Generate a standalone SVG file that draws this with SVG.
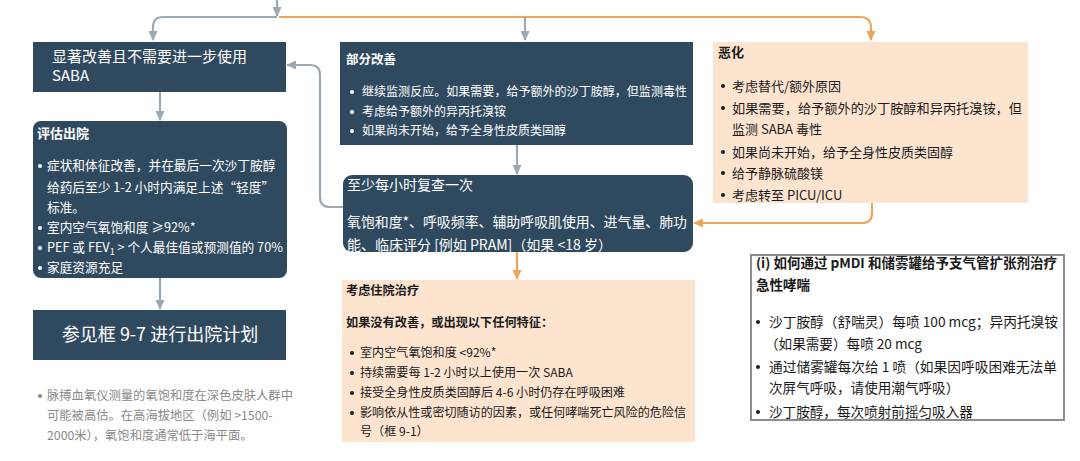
<svg xmlns="http://www.w3.org/2000/svg" width="1080" height="461" viewBox="0 0 1080 461">
<defs>
<marker id="ag" viewBox="0 0 10 10" refX="9" refY="5" markerWidth="10" markerHeight="10" markerUnits="userSpaceOnUse" orient="auto"><path d="M0,0.5 L10,5 L0,9.5 z" fill="#9aa9b3"/></marker>
<marker id="ao" viewBox="0 0 10 10" refX="9" refY="5" markerWidth="10" markerHeight="10" markerUnits="userSpaceOnUse" orient="auto"><path d="M0,0.5 L10,5 L0,9.5 z" fill="#eda559"/></marker>
<style>
text{font-family:"Noto Sans CJK SC","Noto Sans",sans-serif;}
.navy{fill:#2f4a5f;}
.peach{fill:#fde4cf;}
.w{fill:#ffffff;}
.k{fill:#1a1a1a;}
.g{fill:#8a8a8a;}
.b{font-weight:bold;}
.cg{fill:none;stroke:#9aa9b3;stroke-width:2.2;}
.co{fill:none;stroke:#eda559;stroke-width:2.2;}
</style>
</defs>
<rect width="1080" height="461" fill="#ffffff"/>

<g id="connectors">
<path class="co" d="M279,17 H860 Q871,17 871,28 V40" marker-end="url(#ao)"/>
<path class="cg" d="M277,0 V16" marker-end="url(#ag)"/>
<path class="cg" d="M277,17 H163 Q153,17 153,27 V40" marker-end="url(#ag)"/>
<path class="cg" d="M525,17 V40" marker-end="url(#ag)"/>
<path class="cg" d="M160,92 V120" marker-end="url(#ag)"/>
<path class="cg" d="M160,278 V309" marker-end="url(#ag)"/>
<path class="cg" d="M517,145 V174" marker-end="url(#ag)"/>
<path class="cg" d="M343,207 H330 Q320,207 320,197 V75 Q320,65 310,65 H287" marker-end="url(#ag)"/>
<path class="co" d="M872,203 V213 Q872,223 862,223 H694" marker-end="url(#ao)"/>
<path class="co" d="M517,252 V279" marker-end="url(#ao)"/>
</g>

<g id="node-improved">
<rect class="navy" x="33" y="42" width="253" height="50"/>
<text class="w" x="52" y="62" font-size="15">显著改善且不需要进一步使用</text>
<text class="w" x="52" y="81" font-size="15">SABA</text>
</g>

<g id="node-assess">
<rect class="navy" x="33" y="121" width="254" height="157" rx="8"/>
<text class="w b" x="37" y="138" font-size="13">评估出院</text>
<g class="w">
<circle cx="40" cy="166" r="2"/><circle cx="40" cy="228" r="2"/><circle cx="40" cy="248" r="2"/><circle cx="40" cy="268" r="2"/>
</g>
<g class="w" font-size="12.7">
<text x="47" y="170">症状和体征改善，并在最后一次沙丁胺醇</text>
<text x="47" y="192">给药后至少 1-2 小时内满足上述“轻度”</text>
<text x="47" y="212">标准。</text>
<text x="47" y="232">室内空气氧饱和度 ≥92%*</text>
<text x="47" y="252">PEF 或 FEV<tspan font-size="9" dy="3">1</tspan><tspan dy="-3"> &gt; 个人最佳值或预测值的 70%</tspan></text>
<text x="47" y="272">家庭资源充足</text>
</g>
</g>

<g id="node-discharge">
<rect class="navy" x="33" y="310" width="253" height="50"/>
<text class="w" x="160" y="341" font-size="18" text-anchor="middle">参见框 9-7 进行出院计划</text>
</g>

<g id="footnote" class="g" font-size="12.3">
<circle cx="40" cy="396" r="2"/>
<text x="47" y="400">脉搏血氧仪测量的氧饱和度在深色皮肤人群中</text>
<text x="47" y="420">可能被高估。在高海拔地区（例如 &gt;1500-</text>
<text x="47" y="440">2000米），氧饱和度通常低于海平面。</text>
</g>

<g id="node-partial">
<rect class="navy" x="340" y="42" width="353" height="103"/>
<text class="w b" x="346" y="64" font-size="12.5">部分改善</text>
<g class="w">
<circle cx="352" cy="92" r="2"/><circle cx="352" cy="112" r="2"/><circle cx="352" cy="131" r="2"/>
</g>
<g class="w" font-size="12">
<text x="362" y="96" textLength="325" lengthAdjust="spacingAndGlyphs">继续监测反应。如果需要，给予额外的沙丁胺醇，但监测毒性</text>
<text x="362" y="116">考虑给予额外的异丙托溴铵</text>
<text x="362" y="135">如果尚未开始，给予全身性皮质类固醇</text>
</g>
</g>

<g id="node-recheck">
<rect class="navy" x="343" y="175" width="350" height="77" rx="9"/>
<text class="w" x="347" y="190" font-size="14">至少每小时复查一次</text>
<text class="w" x="347" y="227" font-size="14" textLength="340" lengthAdjust="spacingAndGlyphs">氧饱和度*、呼吸频率、辅助呼吸肌使用、进气量、肺功</text>
<text class="w" x="347" y="250" font-size="14">能、临床评分 [例如 PRAM]（如果 &lt;18 岁）</text>
</g>

<g id="node-admit">
<rect class="peach" x="342" y="280" width="353" height="162"/>
<text class="k b" x="346" y="295" font-size="12.2">考虑住院治疗</text>
<text class="k b" x="346" y="327" font-size="12.2">如果没有改善，或出现以下任何特征：</text>
<g class="k">
<circle cx="352" cy="353" r="2"/><circle cx="352" cy="373" r="2"/><circle cx="352" cy="393" r="2"/><circle cx="352" cy="413" r="2"/>
</g>
<g class="k" font-size="12.1">
<text x="360" y="357">室内空气氧饱和度 &lt;92%*</text>
<text x="360" y="377">持续需要每 1-2 小时以上使用一次 SABA</text>
<text x="360" y="397">接受全身性皮质类固醇后 4-6 小时仍存在呼吸困难</text>
<text x="360" y="417" textLength="326" lengthAdjust="spacingAndGlyphs">影响依从性或密切随访的因素，或任何哮喘死亡风险的危险信</text>
<text x="360" y="436">号（框 9-1）</text>
</g>
</g>

<g id="node-worse">
<rect class="peach" x="713" y="42" width="315" height="161"/>
<text class="k b" x="718" y="57" font-size="13">恶化</text>
<g class="k">
<circle cx="723" cy="86" r="2"/><circle cx="723" cy="108" r="2"/><circle cx="723" cy="152" r="2"/><circle cx="723" cy="173" r="2"/><circle cx="723" cy="195" r="2"/>
</g>
<g class="k" font-size="13">
<text x="732" y="91">考虑替代/额外原因</text>
<text x="732" y="113" textLength="290" lengthAdjust="spacingAndGlyphs">如果需要，给予额外的沙丁胺醇和异丙托溴铵，但</text>
<text x="732" y="134">监测 SABA 毒性</text>
<text x="732" y="157">如果尚未开始，给予全身性皮质类固醇</text>
<text x="732" y="178">给予静脉硫酸镁</text>
<text x="732" y="200">考虑转至 PICU/ICU</text>
</g>
</g>

<g id="node-pmdi">
<rect x="751" y="255" width="313" height="165" fill="#ffffff" stroke="#8c8c8c" stroke-width="2"/>
<text class="k b" x="756" y="268" font-size="13.5" textLength="301" lengthAdjust="spacingAndGlyphs">(i) 如何通过 pMDI 和储雾罐给予支气管扩张剂治疗</text>
<text class="k b" x="756" y="290" font-size="13.5">急性哮喘</text>
<g class="k">
<circle cx="758" cy="322" r="2"/><circle cx="758" cy="367" r="2"/><circle cx="758" cy="412" r="2"/>
</g>
<g class="k" font-size="13.6">
<text x="769" y="327" textLength="289" lengthAdjust="spacingAndGlyphs">沙丁胺醇（舒喘灵）每喷 100 mcg；异丙托溴铵</text>
<text x="765" y="349">（如果需要）每喷 20 mcg</text>
<text x="769" y="372" textLength="288" lengthAdjust="spacingAndGlyphs">通过储雾罐每次给 1 喷（如果因呼吸困难无法单</text>
<text x="769" y="393">次屏气呼吸，请使用潮气呼吸）</text>
<text x="769" y="417">沙丁胺醇，每次喷射前摇匀吸入器</text>
</g>
</g>
</svg>
